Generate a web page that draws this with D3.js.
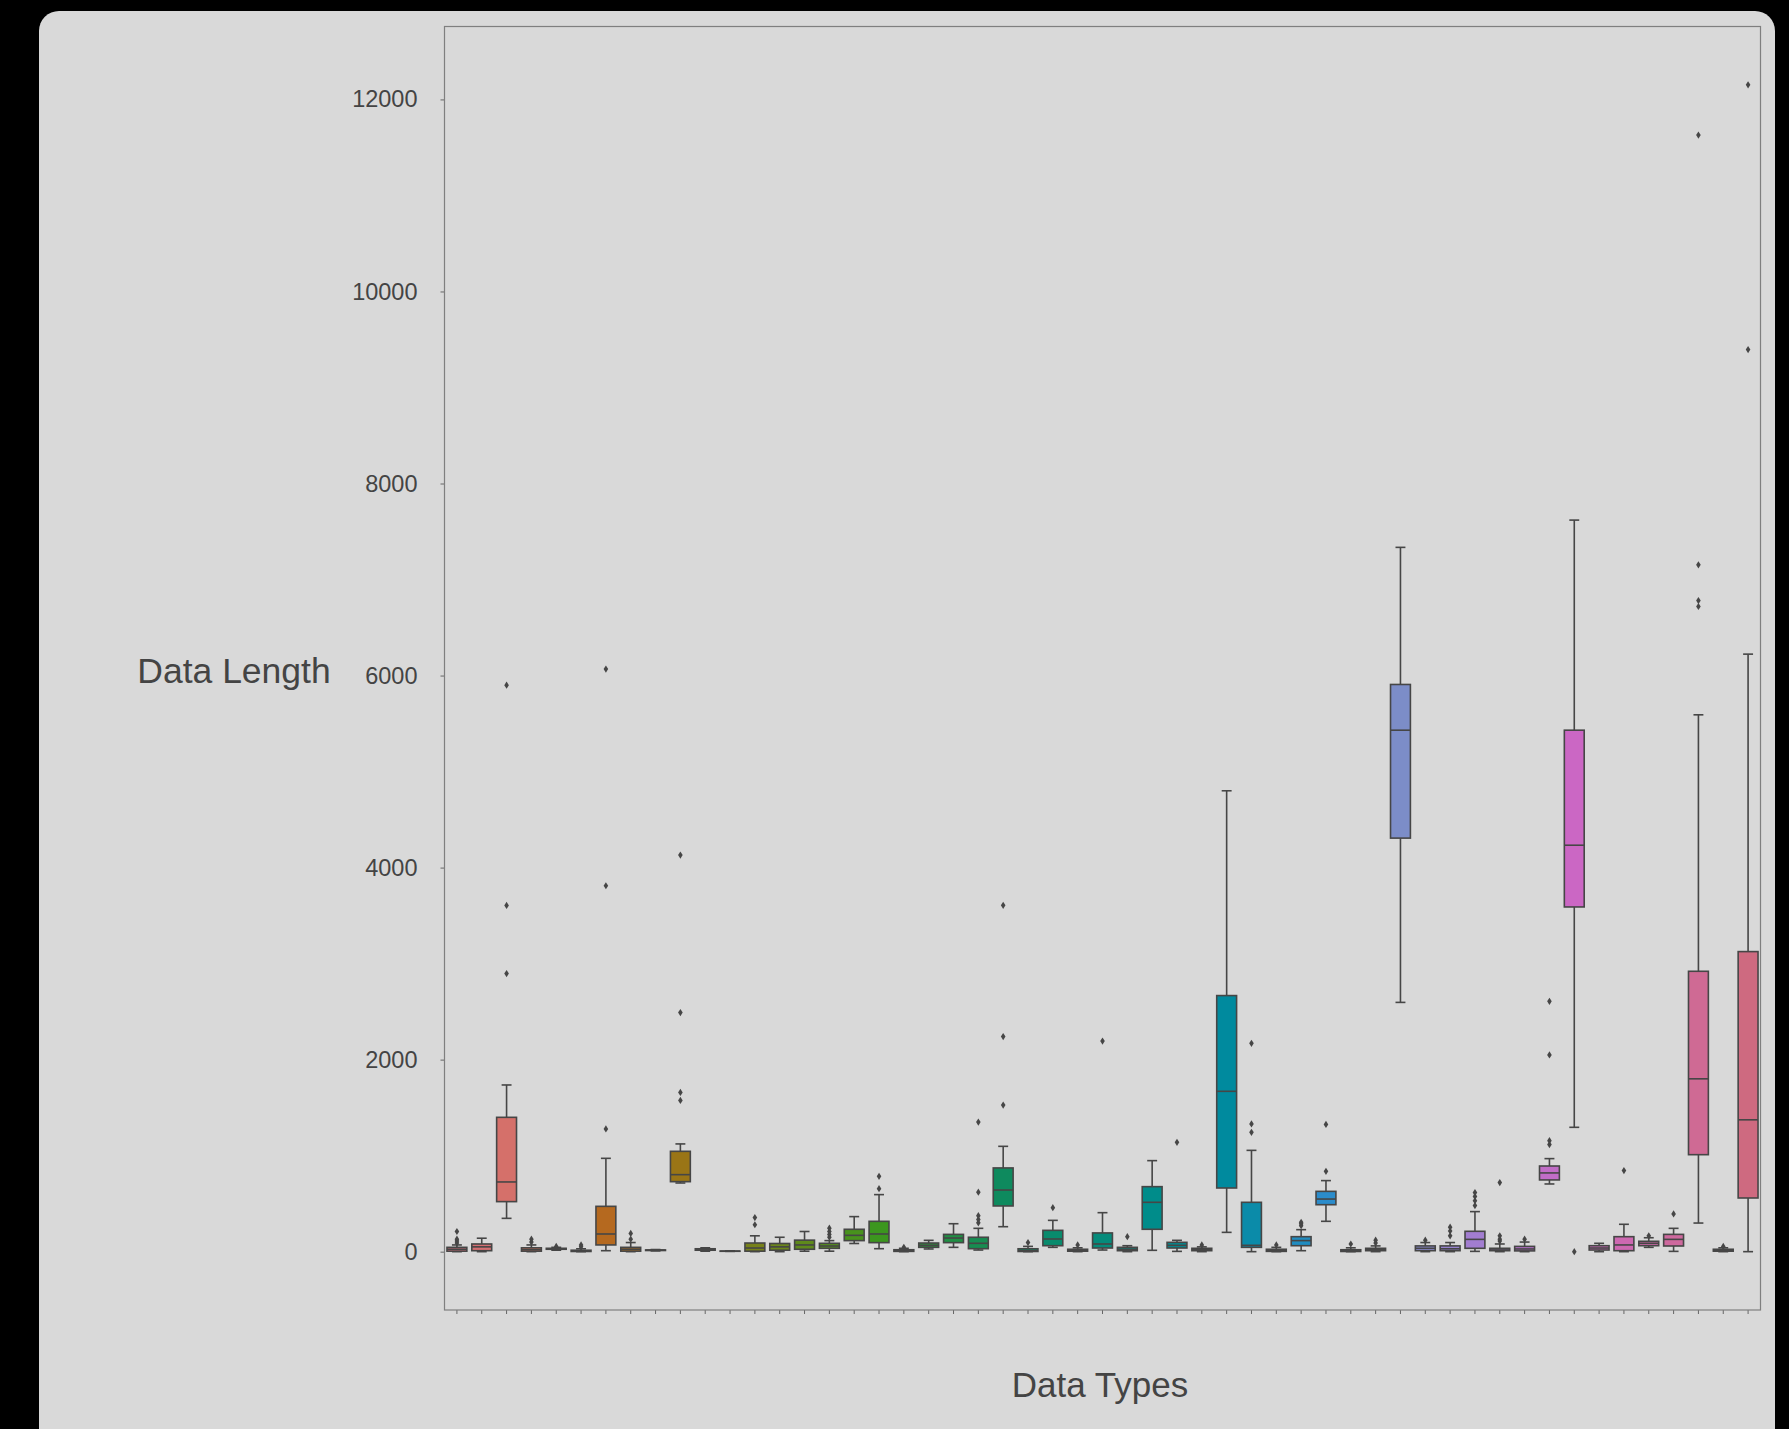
<!DOCTYPE html>
<html>
<head>
<meta charset="utf-8">
<script src="https://cdn.jsdelivr.net/npm/d3@7"></script>
<style>
  html, body { margin: 0; padding: 0; background: #000; }
  svg { display: block; }
  text { font-family: "Liberation Sans", Arial, Helvetica, sans-serif; }
</style>
</head>
<body>
<svg id="chart" width="1789" height="1429"></svg>
<script>
// ---------------- DATA ----------------
const categories = ["c01","c02","c03","c04","c05","c06","c07","c08","c09","c10",
  "c11","c12","c13","c14","c15","c16","c17","c18","c19","c20",
  "c21","c22","c23","c24","c25","c26","c27","c28","c29","c30",
  "c31","c32","c33","c34","c35","c36","c37","c38","c39","c40",
  "c41","c42","c43","c44","c45","c46","c47","c48","c49","c50",
  "c51","c52","c53"];

const q1 = [5, 10, 521, 5, 25, 2, 70, 5, 12, 729,
  15, 4, 5, 15, 25, 35, 115, 94, 3, 45,
  94, 31, 476, 2, 62, 5, 38, 10, 233, 38,
  10, 663, 45, 3, 62, 489, 2, 10, 4307, 10,
  10, 35, 10, 8, 747, 3590, 17, 10, 62, 59,
  1010, 5, 559];

const medians = [25, 50, 726, 20, 30, 8, 184, 25, 15, 802,
  22, 5, 38, 50, 70, 59, 170, 184, 10, 66,
  142, 87, 642, 10, 132, 12, 80, 25, 514, 66,
  20, 1670, 66, 10, 115, 548, 8, 20, 5431, 35,
  30, 128, 18, 28, 820, 4233, 38, 70, 87, 128,
  1800, 12, 1373];

const q3 = [45, 80, 1399, 40, 35, 15, 472, 45, 18, 1045,
  30, 6, 90, 85, 120, 87, 233, 316, 20, 90,
  180, 150, 872, 30, 222, 25, 195, 45, 677, 97,
  35, 2667, 514, 25, 156, 628, 20, 35, 5907, 60,
  60, 212, 35, 55, 892, 5431, 62, 156, 108, 180,
  2920, 25, 3125];

const whiskerLow = [0, 0, 347, 0, 15, 0, 10, 0, 8, 715,
  5, 3, 0, 0, 5, 5, 85, 31, 0, 28,
  45, 17, 260, 0, 45, 0, 17, 0, 14, 3,
  0, 201, 0, 0, 10, 316, 0, 0, 2596, 0,
  0, 3, 0, 0, 705, 1295, 0, 0, 45, 3,
  298, 0, 0];

const whiskerHigh = [70, 140, 1736, 70, 45, 30, 972, 95, 22, 1122,
  40, 7, 165, 150, 210, 115, 365, 594, 35, 118,
  291, 243, 1097, 55, 326, 40, 406, 62, 948, 118,
  50, 4800, 1055, 45, 229, 740, 40, 60, 7335, 95,
  95, 417, 80, 100, 969, 7619, 87, 285, 145, 243,
  5591, 40, 6223];

const outliers = [
  [90, 110, 130, 210], [], [2896, 3606, 5900], [100, 130], [55],
  [50, 70], [1278, 3811, 6067], [130, 190], [], [1575, 1658, 2490, 4130],
  [], [], [280, 355], [], [],
  [150, 180, 210, 245], [], [656, 785], [45], [],
  [], [300, 335, 375, 620, 1350], [1527, 2240, 3607], [95], [458],
  [70], [2193], [156], [], [1139],
  [70], [], [1243, 1330, 2170], [70], [270, 290, 305],
  [837, 1325], [80], [90, 120], [], [120],
  [165, 215, 255], [480, 530, 575, 615], [110, 130, 165, 720], [130], [1115, 1156, 2049, 2607],
  [0], [], [844], [165], [393],
  [6719, 6781, 7153, 11629], [55], [9395, 12152]
];

const yTicks = [0, 2000, 4000, 6000, 8000, 10000, 12000];
const xLabel = "Data Types";
const yLabel = "Data Length";

// ---------------- PALETTE (hue sweep) ----------------
const paletteAnchorIndex = [0, 2, 6, 9, 17, 22, 28, 31, 35, 38, 41, 45, 50, 52];
const paletteAnchorColor = ["#d46e7a", "#d5706a", "#b5691f", "#9a7516", "#3c961e", "#0e8a5e",
  "#008c8a", "#008a9e", "#2b8ccb", "#7c8dc8", "#a27dd0", "#cb67c4", "#cf6a94", "#ce6a80"];
const paletteScale = d3.scaleLinear()
  .domain(paletteAnchorIndex).range(paletteAnchorColor)
  .interpolate(d3.interpolateRgb);
const palette = categories.map((c, i) => paletteScale(i));
const lineGray = "#464646";

// ---------------- LAYOUT ----------------
const svg = d3.select("#chart");
const plot = { left: 444.5, right: 1760.5, top: 26.5, bottom: 1310 };

// panel
svg.append("rect")
  .attr("x", 39).attr("y", 11)
  .attr("width", 1775 - 39).attr("height", 1460)
  .attr("rx", 20).attr("ry", 20)
  .attr("fill", "#d9d9d9");

const x = d3.scaleBand().domain(categories).range([plot.left, plot.right]).padding(0);

const allVals = [].concat(whiskerLow, whiskerHigh, ...outliers);
const dMin = d3.min(allVals), dMax = d3.max(allVals);
const R = dMax - dMin;
const y = d3.scaleLinear().domain([dMin - 0.05 * R, dMax + 0.05 * R]).range([plot.bottom, plot.top]);

// y axis
const yAxis = svg.append("g")
  .attr("transform", `translate(${plot.left},0)`)
  .call(d3.axisLeft(y).tickValues(yTicks).tickFormat(d3.format("d")).tickSize(4).tickPadding(23));
yAxis.select(".domain").remove();
yAxis.selectAll(".tick line").attr("stroke", "#666").attr("stroke-width", 1);
yAxis.selectAll(".tick text")
  .attr("fill", "#444")
  .style("font-size", "23.5px")
  .style("font-family", "'Liberation Sans', Arial, Helvetica, sans-serif");

// x axis (ticks only)
const xAxis = svg.append("g")
  .attr("transform", `translate(0,${plot.bottom})`)
  .call(d3.axisBottom(x).tickSize(4).tickFormat(""));
xAxis.select(".domain").remove();
xAxis.selectAll(".tick line").attr("stroke", "#666").attr("stroke-width", 1);

// boxes
const bw = x.bandwidth() * 0.8;
const g = svg.append("g");
categories.forEach((c, i) => {
  const cx = x(c) + x.bandwidth() / 2;
  const grp = g.append("g");
  // whiskers
  grp.append("line").attr("x1", cx).attr("x2", cx)
    .attr("y1", y(q3[i])).attr("y2", y(whiskerHigh[i]))
    .attr("stroke", lineGray).attr("stroke-width", 1.6);
  grp.append("line").attr("x1", cx).attr("x2", cx)
    .attr("y1", y(q1[i])).attr("y2", y(whiskerLow[i]))
    .attr("stroke", lineGray).attr("stroke-width", 1.6);
  // caps
  [whiskerLow[i], whiskerHigh[i]].forEach(v => {
    grp.append("line").attr("x1", cx - bw / 4).attr("x2", cx + bw / 4)
      .attr("y1", y(v)).attr("y2", y(v))
      .attr("stroke", lineGray).attr("stroke-width", 1.6);
  });
  // box
  grp.append("rect")
    .attr("x", cx - bw / 2).attr("width", bw)
    .attr("y", y(q3[i])).attr("height", Math.max(0, y(q1[i]) - y(q3[i])))
    .attr("fill", palette[i])
    .attr("stroke", lineGray).attr("stroke-width", 1.6);
  // median
  grp.append("line").attr("x1", cx - bw / 2).attr("x2", cx + bw / 2)
    .attr("y1", y(medians[i])).attr("y2", y(medians[i]))
    .attr("stroke", lineGray).attr("stroke-width", 1.6);
  // outliers
  grp.selectAll("path.fl").data(outliers[i]).enter().append("path")
    .attr("class", "fl")
    .attr("d", "M0,-3.6 L2.3,0 L0,3.6 L-2.3,0 Z")
    .attr("transform", v => `translate(${cx},${y(v)})`)
    .attr("fill", lineGray);
});

// frame
svg.append("rect")
  .attr("x", plot.left).attr("y", plot.top)
  .attr("width", plot.right - plot.left).attr("height", plot.bottom - plot.top)
  .attr("fill", "none").attr("stroke", "#7f7f7f").attr("stroke-width", 1.2);

// labels
svg.append("text")
  .attr("x", 234).attr("y", 683)
  .attr("text-anchor", "middle")
  .attr("fill", "#444")
  .style("font-size", "35.5px")
  .text(yLabel);

svg.append("text")
  .attr("x", 1100).attr("y", 1397)
  .attr("text-anchor", "middle")
  .attr("fill", "#444")
  .style("font-size", "35px")
  .text(xLabel);
</script>
</body>
</html>
